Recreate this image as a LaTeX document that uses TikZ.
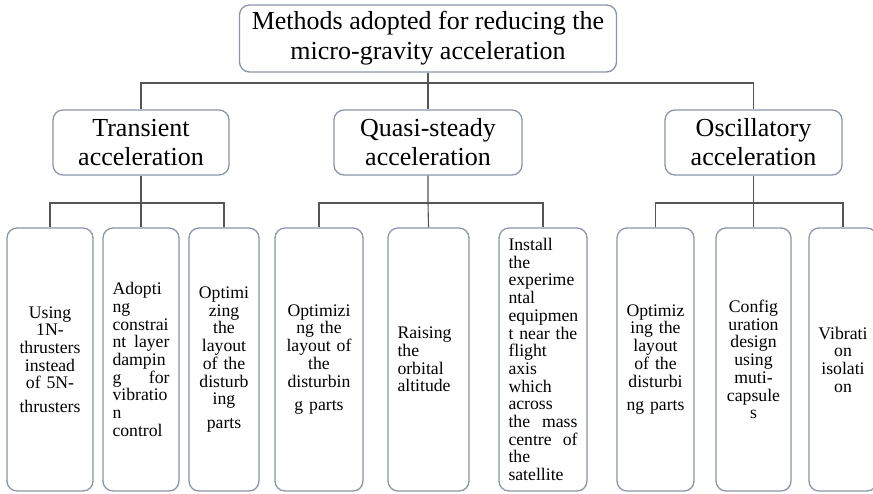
\documentclass[tikz,border=0pt]{standalone}
\usepackage{fontspec}
\setmainfont{Liberation Serif}
\definecolor{boxc}{HTML}{8C94AC}
\definecolor{linec}{HTML}{555555}
\tikzset{
  box/.style={draw=boxc, line width=1.3pt, rounded corners=10pt, inner sep=0pt, text=black},
  topbox/.style={box, minimum width=377pt, minimum height=67pt, align=center, font=\fontsize{26}{30}\selectfont},
  midbox/.style={box, minimum height=65pt, align=center, font=\fontsize{26}{29}\selectfont},
  leafc/.style={box, minimum height=263pt, align=center, font=\fontsize{17.7}{17.7}\selectfont},
  leafl/.style={box, minimum height=263pt, align=left, font=\fontsize{17.7}{17.7}\selectfont},
  conn/.style={draw=linec, line width=1.1pt}
}
\begin{document}
\begin{tikzpicture}[x=1pt,y=-1pt]
\useasboundingbox (0,0) rectangle (873,493);
\clip (0,0) rectangle (873,493);
\fill[white] (0,0) rectangle (873,493);

% top
\node[topbox] (top) at (428,38.5) {Methods adopted for reducing the\\micro-gravity acceleration};

% middle
\node[midbox, minimum width=176pt] (tr) at (141,142.5) {Transient\\acceleration};
\node[midbox, minimum width=188pt] (qs) at (428,142.5) {Quasi-steady\\acceleration};
\node[midbox, minimum width=177pt] (os) at (753.5,142.5) {Oscillatory\\acceleration};

% leaves
\node[leafc, minimum width=86pt, text width=80pt] (t1) at (50,359.5)
  {Using\\1N-\\thrusters\\instead\\of 5N-\\[6pt]thrusters};
\node[leafl, minimum width=76pt, text width=57pt] (t2) at (141,359.5)
  {Adopti\\ng\\constrai\\nt\hfill layer\\dampin\\g\hfill for\\vibratio\\n\\control};
\node[leafc, minimum width=70pt, text width=64pt] (t3) at (224,359.5)
  {Optimi\\zing\\the\\layout\\of the\\disturb\\ing\\[6pt]parts};

\node[leafc, minimum width=88pt, text width=82pt] (q1) at (319,359.5)
  {Optimizi\\ng the\\layout of\\the\\disturbin\\[6pt]g parts};
\node[leafl, minimum width=81pt, text width=62pt] (q2) at (428.5,359.5)
  {Raising\\the\\orbital\\altitude};
\node[leafl, minimum width=88pt, text width=69pt] (q3) at (543,359.5)
  {Install\\the\\experime\\ntal\\equipmen\\t near the\\flight\\axis\\which\\across\\the\hfill mass\\centre\hfill of\\the\\satellite};

\node[leafc, minimum width=77pt, text width=71pt] (o1) at (655.5,359.5)
  {Optimiz\\ing the\\layout\\of the\\disturbi\\[6pt]ng parts};
\node[leafc, minimum width=75pt, text width=69pt] (o2) at (753.5,359.5)
  {Config\\uration\\design\\using\\muti-\\capsule\\s};
\node[leafc, minimum width=68pt, text width=62pt] (o3) at (843,359.5)
  {Vibrati\\on\\isolati\\on};

% connectors
\coordinate (hub) at (428,83);
\coordinate (tj) at (141,203);
\coordinate (qj) at (428,203);
\coordinate (oj) at (753.5,203);

\draw[conn] (top.south) -- (qs.north);
\draw[conn] (tr.north) |- (hub) -| (os.north);

\draw[conn] (tr.south) -- (tj) -- (t2.north);
\draw[conn] (t1.north) |- (tj) -| (t3.north);

\draw[conn] (qs.south) -- (qj) -- (q2.north);
\draw[conn] (q1.north) |- (qj) -| (q3.north);

\draw[conn] (os.south) -- (oj) -- (o2.north);
\draw[conn] (o1.north) |- (oj) -| (o3.north);
\end{tikzpicture}
\end{document}
